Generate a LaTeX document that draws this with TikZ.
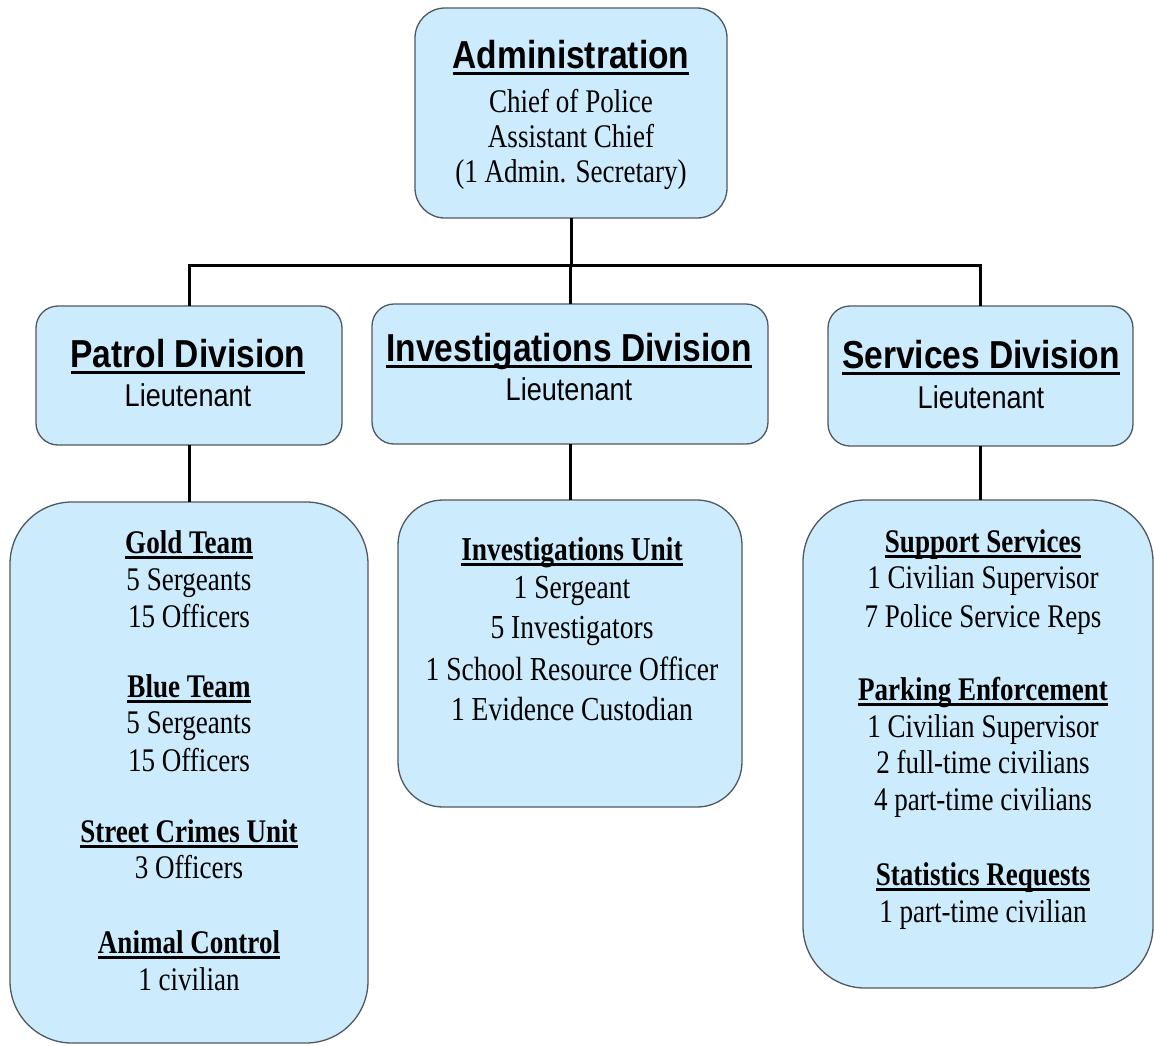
\documentclass[tikz,border=0pt]{standalone}
\usepackage{fontspec}
\setmainfont{Liberation Serif}[FakeStretch=0.82]
\newfontfamily\sansf{Liberation Sans}[FakeStretch=0.86]
\definecolor{boxfill}{RGB}{204,236,254}
\definecolor{boxborder}{RGB}{80,88,96}
\newcommand{\ulx}[1]{\setbox0\hbox{#1}\rlap{\rule[-0.18em]{\wd0}{0.09em}}\box0}
\tikzset{
  orgbox/.style={draw=boxborder, fill=boxfill, line width=1.3pt, inner sep=0pt, outer sep=0pt},
  conn/.style={line width=3pt, black},
  ttitle/.style={anchor=base, inner sep=0pt, font=\sansf\bfseries\fontsize{39}{44}\selectfont},
  tsub/.style={anchor=base, inner sep=0pt, font=\sansf\fontsize{31.5}{36}\selectfont},
  thead/.style={anchor=base, inner sep=0pt, font=\bfseries\fontsize{33}{38}\selectfont},
  tline/.style={anchor=base, inner sep=0pt, font=\fontsize{33}{38}\selectfont},
  tlineb/.style={anchor=base, inner sep=0pt, font=\fontsize{33.6}{38}\selectfont},
  theadb/.style={anchor=base, inner sep=0pt, font=\bfseries\fontsize{33.4}{38}\selectfont},
}
\begin{document}
\begin{tikzpicture}[x=1pt,y=-1pt]
\useasboundingbox (0,0) rectangle (1154,1045);
\fill[white] (0,0) rectangle (1154,1045);

% boxes
\node[orgbox, rounded corners=30pt, minimum width=312pt, minimum height=210pt] (adm) at (571,113) {};
\node[orgbox, rounded corners=22pt, minimum width=306pt, minimum height=139pt] (pat) at (189,375.5) {};
\node[orgbox, rounded corners=22pt, minimum width=396pt, minimum height=140pt] (inv) at (570,374) {};
\node[orgbox, rounded corners=22pt, minimum width=305pt, minimum height=140pt] (ser) at (980.5,376) {};
\node[orgbox, rounded corners=62pt, minimum width=358pt, minimum height=541pt] (patu) at (189,772.5) {};
\node[orgbox, rounded corners=45pt, minimum width=344pt, minimum height=307pt] (invu) at (570,653.5) {};
\node[orgbox, rounded corners=62pt, minimum width=350pt, minimum height=488pt] (seru) at (978,744) {};

% connectors
\coordinate (bar) at (571,265);
\draw[conn] (adm.south) -- (adm.south |- bar);
\draw[conn, line cap=rect] (pat.north |- bar) -- (ser.north |- bar);
\draw[conn] (pat.north |- bar) -- (pat.north);
\draw[conn] (inv.north |- bar) -- (inv.north);
\draw[conn] (ser.north |- bar) -- (ser.north);
\draw[conn] (pat.south) -- (pat.south |- patu.north);
\draw[conn] (inv.south) -- (inv.south |- invu.north);
\draw[conn] (ser.south) -- (ser.south |- seru.north);

% administration
\node[ttitle] (admT) at (571,68) {\ulx{Administration}};
\node[tline] (admA) at (571,112) {Chief of Police};
\node[tline] (admB) at (571,147) {Assistant Chief};
\node[tline] (admC) at (571,182) {(1 Admin. Secretary)};

% divisions
\node[ttitle] (patT) at (188,367) {\ulx{Patrol Division}};
\node[tsub] (patL) at (188,406) {Lieutenant};
\node[ttitle] (invT) at (569,361) {\ulx{Investigations Division}};
\node[tsub] (invL) at (569,400) {Lieutenant};
\node[ttitle] (serT) at (981,368) {\ulx{Services Division}};
\node[tsub] (serL) at (981,408) {Lieutenant};

% patrol units
\node[thead] (p1) at (189,553) {\ulx{Gold Team}};
\node[tline] (p2) at (189,590) {5 Sergeants};
\node[tline] (p3) at (189,627) {15 Officers};
\node[thead] (p4) at (189,697) {\ulx{Blue Team}};
\node[tline] (p5) at (189,733) {5 Sergeants};
\node[tline] (p6) at (189,771) {15 Officers};
\node[thead] (p7) at (189,842) {\ulx{Street Crimes Unit}};
\node[tline] (p8) at (189,878) {3 Officers};
\node[thead] (p9) at (189,953) {\ulx{Animal Control}};
\node[tline] (p10) at (189,990) {1 civilian};

% investigations unit
\node[theadb] (i1) at (572,560) {\ulx{Investigations Unit}};
\node[tlineb] (i2) at (572,598) {1 Sergeant};
\node[tlineb] (i3) at (572,638) {5 Investigators};
\node[tlineb] (i4) at (572,680) {1 School Resource Officer};
\node[tlineb] (i5) at (572,720) {1 Evidence Custodian};

% services units
\node[thead] (s1) at (983,552) {\ulx{Support Services}};
\node[tline] (s2) at (983,588) {1 Civilian Supervisor};
\node[tline] (s3) at (983,627) {7 Police Service Reps};
\node[thead] (s4) at (983,700) {\ulx{Parking Enforcement}};
\node[tline] (s5) at (983,737) {1 Civilian Supervisor};
\node[tline] (s6) at (983,773) {2 full-time civilians};
\node[tline] (s7) at (983,810) {4 part-time civilians};
\node[thead] (s8) at (983,885) {\ulx{Statistics Requests}};
\node[tline] (s9) at (983,922) {1 part-time civilian};
\end{tikzpicture}
\end{document}
